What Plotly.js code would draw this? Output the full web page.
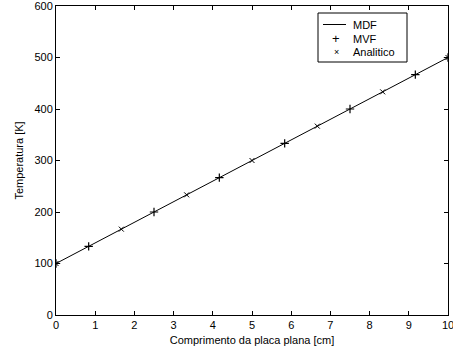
<!DOCTYPE html>
<html><head><meta charset="utf-8">
<script src="https://cdn.plot.ly/plotly-3.0.1.min.js"></script>
<style>body{margin:0;background:#fff}#g{width:453px;height:355px}</style>
</head><body><div id="g"></div>
<script>
const mdfX = [0, 10];
const mdfY = [100, 500];
const mvfX = [0, 0.8333, 2.5, 4.1667, 5.8333, 7.5, 9.1667, 10];
const mvfY = [100, 133.3, 200, 266.7, 333.3, 400, 466.7, 500];
const anaX = [0, 1.6667, 3.3333, 5, 6.6667, 8.3333, 10];
const anaY = [100, 166.7, 233.3, 300, 366.7, 433.3, 500];
const xTicks = [0,1,2,3,4,5,6,7,8,9,10];
const yTicks = [0,100,200,300,400,500,600];
const seriesNames = ['MDF', 'MVF', 'Analitico'];

const traces = [
  {x: mdfX, y: mdfY, mode: 'lines', name: seriesNames[0], line: {color: '#000', width: 1}},
  {x: mvfX, y: mvfY, mode: 'markers', name: seriesNames[1], marker: {symbol: 'cross-thin-open', size: 6, color: '#000', line: {color: '#000', width: 1.2}}},
  {x: anaX, y: anaY, mode: 'markers', name: seriesNames[2], marker: {symbol: 'x-thin-open', size: 5, color: '#000', line: {color: '#000', width: 1}}}
];

// custom legend (pixel positions converted to paper coords)
const L = 56, T = 6, W = 392, H = 309;
const px = v => (v - L) / W;
const py = v => 1 - (v - T) / H;
const rows = [24.5, 39, 52.5];
const shapes = [
  {type: 'rect', xref: 'paper', yref: 'paper', x0: px(318), x1: px(407), y0: py(13), y1: py(62), line: {color: '#000', width: 1}, fillcolor: '#fff', layer: 'above'},
  {type: 'line', xref: 'paper', yref: 'paper', x0: px(323), x1: px(346), y0: py(rows[0]), y1: py(rows[0]), line: {color: '#000', width: 1}, layer: 'above'}
];
const annotations = [
  {xref: 'paper', yref: 'paper', x: px(336), y: py(rows[1]), text: '+', showarrow: false, xanchor: 'center', yanchor: 'middle', font: {size: 13, color: '#000'}},
  {xref: 'paper', yref: 'paper', x: px(336), y: py(rows[2]), text: '×', showarrow: false, xanchor: 'center', yanchor: 'middle', font: {size: 9, color: '#000'}}
];
seriesNames.forEach((n, i) => annotations.push({xref: 'paper', yref: 'paper', x: px(351), y: py(rows[i]), text: n, showarrow: false, xanchor: 'left', yanchor: 'middle', font: {size: 11, color: '#000'}}));

const ax = {
  showline: true, linecolor: '#000', linewidth: 1, mirror: 'ticks',
  ticks: 'inside', ticklen: 4, tickcolor: '#000', showgrid: false, zeroline: false,
  tickfont: {size: 11, color: '#000'}, ticklabeloverflow: 'allow'
};
const layout = {
  width: 453, height: 355,
  margin: {l: 56, r: 5, t: 6, b: 40},
  paper_bgcolor: '#fff', plot_bgcolor: '#fff',
  font: {family: 'Liberation Sans, Arial, sans-serif', size: 11, color: '#000'},
  showlegend: false,
  shapes: shapes, annotations: annotations,
  xaxis: Object.assign({}, ax, {range: [0, 10], tickvals: xTicks, title: {text: 'Comprimento da placa plana [cm]', font: {size: 11}, standoff: 6}}),
  yaxis: Object.assign({}, ax, {range: [0, 600], tickvals: yTicks, title: {text: 'Temperatura [K]', font: {size: 11}, standoff: 8}})
};
Plotly.newPlot('g', traces, layout, {displayModeBar: false, staticPlot: true});
</script></body></html>
